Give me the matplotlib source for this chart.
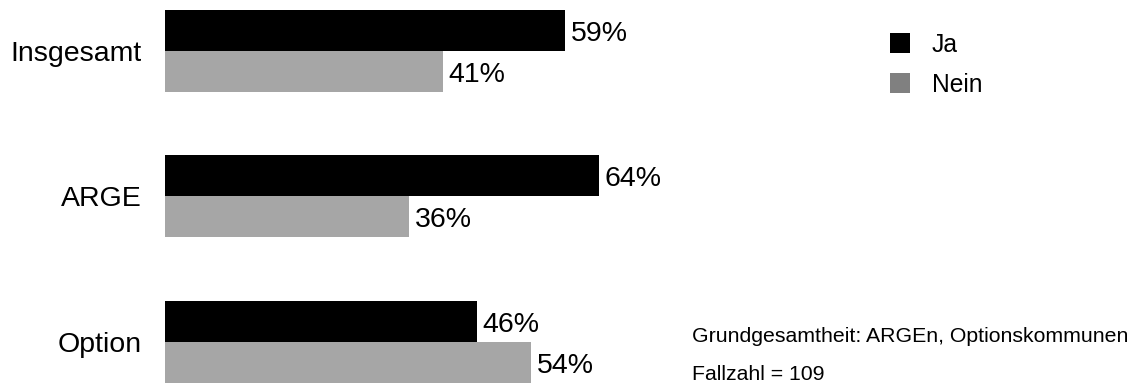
import matplotlib
matplotlib.use("Agg")
import matplotlib.pyplot as plt
from matplotlib.patches import Rectangle

categories = ["Insgesamt", "ARGE", "Option"]
ja = [59, 64, 46]
nein = [41, 36, 54]
series_labels = ["Ja", "Nein"]
footnotes = ["Grundgesamtheit: ARGEn, Optionskommunen", "Fallzahl = 109"]

plt.rcParams["font.family"] = ["Liberation Sans", "DejaVu Sans"]

W, H = 1136, 383
fig = plt.figure(figsize=(W / 100, H / 100), dpi=100)
left_px, right_px = 165, 843
ax = fig.add_axes([left_px / W, 0, (right_px - left_px) / W, 1])

bar_h = 0.282
pos = list(range(len(categories)))
ja_y = [p - bar_h / 2 for p in pos]
nein_y = [p + bar_h / 2 for p in pos]
ax.barh(ja_y, ja, height=bar_h, color="#000000", linewidth=0)
ax.barh(nein_y, nein, height=bar_h, color="#a6a6a6", linewidth=0)

# value labels: baseline shifted down by half the cap height so digits sit centred
lab_size = 20.5
cap_shift = -0.716 * lab_size / 2
for ys, vals in ((ja_y, ja), (nein_y, nein)):
    for y, v in zip(ys, vals):
        ax.annotate(f"{v}%", (v, y), xytext=(4.0, cap_shift), textcoords="offset points",
                    ha="left", va="baseline", fontsize=lab_size)

ax.set_xlim(0, 100)
ax.set_ylim(2.282, -0.35)
ax.set_yticks(pos)
ax.set_yticklabels(categories, fontsize=20.5)
ax.tick_params(axis="y", length=0, pad=17)
ax.set_xticks([])
for s in ax.spines.values():
    s.set_visible(False)

# legend drawn as squares with labels
leg_colors = ["#000000", "#808080"]
for i, (lab, col) in enumerate(zip(series_labels, leg_colors)):
    y_top = 33 + i * 40
    fig.add_artist(Rectangle((890 / W, 1 - (y_top + 20) / H), 20 / W, 20 / H,
                             transform=fig.transFigure, color=col, linewidth=0))
    fig.text(932 / W, 1 - (y_top + 19) / H, lab, fontsize=17.7,
             ha="left", va="baseline")

for i, t in enumerate(footnotes):
    fig.text(692 / W, 1 - (342.5 + i * 37) / H, t, fontsize=15.3,
             ha="left", va="baseline")

fig.savefig("out.png", dpi=100)
